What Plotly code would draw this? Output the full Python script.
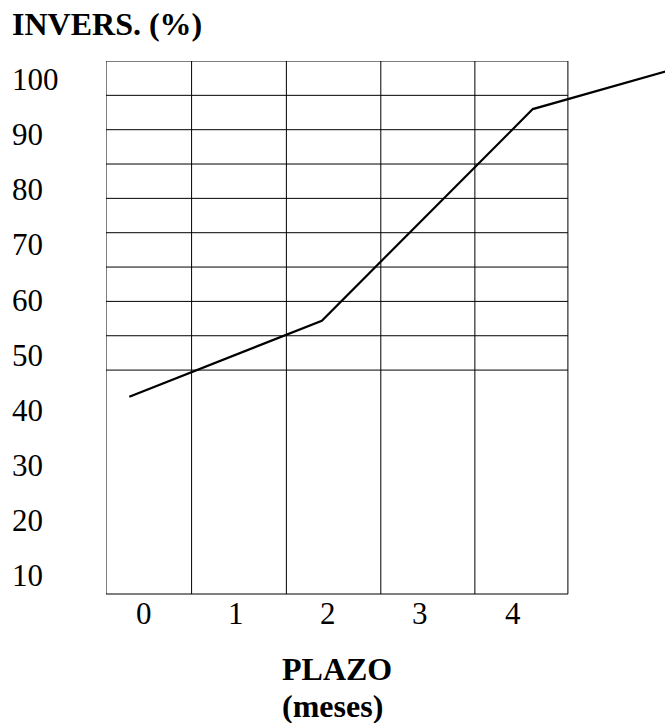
import plotly.graph_objects as go

# ---- data ----
plazo = [-0.16, 1.93, 4.22, 5.66]          # months
inversion = [42.8, 56.6, 95.0, 101.8]       # %
x_ticks = [0, 1, 2, 3, 4]
x_tick_text = ["0", "1", "2", "3", "4"]
y_ticks = [100, 90, 80, 70, 60, 50, 40, 30, 20, 10]
y_tick_text = ["100", "90", "80", "70", "60", "50", "40", "30", "20", "10"]

# ---- layout constants ----
W, H = 665, 723
ML, MR, MT, MB = 106, 0, 61, 129
X_RANGE = [-0.413, 5.655]
Y_RANGE = [7.03, 103.72]
grid_x = [-0.413, 0.516, 1.545, 2.570, 3.591, 4.601]
grid_y_top = 103.72
grid_y_step = 6.23
n_hlines = 10
FONT = "Liberation Serif, Times New Roman, serif"
FS = 31
FS_B = 32

pw = W - ML - MR
ph = H - MT - MB

def px_to_paper_x(p):
    return (p - ML) / pw

def px_to_paper_y(p):
    return (H - MB - p) / ph

fig = go.Figure()
fig.add_trace(go.Scatter(x=plazo, y=inversion, mode="lines",
                         line=dict(color="black", width=2.2),
                         hoverinfo="skip", showlegend=False))

shapes = []
x_left, x_right = grid_x[0], grid_x[-1]
for gx in grid_x:
    shapes.append(dict(type="line", xref="x", yref="paper", x0=gx, x1=gx, y0=0, y1=1,
                       line=dict(color="black", width=1)))
for k in range(n_hlines):
    gy = grid_y_top - k * grid_y_step
    shapes.append(dict(type="line", xref="x", yref="y", x0=x_left, x1=x_right, y0=gy, y1=gy,
                       line=dict(color="black", width=1)))
shapes.append(dict(type="line", xref="x", yref="paper", x0=x_left, x1=x_right, y0=0, y1=0,
                   line=dict(color="black", width=1.2)))

annotations = []
for v, t in zip(y_ticks, y_tick_text):
    annotations.append(dict(text=t, xref="paper", yref="y", x=px_to_paper_x(10), y=v,
                            xanchor="left", yanchor="middle", yshift=2, showarrow=False,
                            font=dict(family=FONT, size=FS, color="black")))
for v, t in zip(x_ticks, x_tick_text):
    annotations.append(dict(text=t, xref="x", yref="paper", x=v, y=px_to_paper_y(613),
                            xanchor="center", yanchor="middle", showarrow=False,
                            font=dict(family=FONT, size=FS, color="black")))
annotations.append(dict(text="<b>INVERS. (%)</b>", xref="paper", yref="paper",
                        x=px_to_paper_x(10), y=px_to_paper_y(24), xanchor="left", yanchor="middle",
                        showarrow=False, font=dict(family=FONT, size=FS_B, color="black")))
annotations.append(dict(text="<b>PLAZO</b>", xref="paper", yref="paper",
                        x=px_to_paper_x(337), y=px_to_paper_y(669), xanchor="center", yanchor="middle",
                        showarrow=False, font=dict(family=FONT, size=FS_B, color="black")))
annotations.append(dict(text="<b>(meses)</b>", xref="paper", yref="paper",
                        x=px_to_paper_x(332), y=px_to_paper_y(706), xanchor="center", yanchor="middle",
                        showarrow=False, font=dict(family=FONT, size=FS_B, color="black")))

fig.update_layout(
    width=W, height=H,
    margin=dict(l=ML, r=MR, t=MT, b=MB, pad=0),
    paper_bgcolor="white", plot_bgcolor="white",
    xaxis=dict(range=X_RANGE, visible=False, fixedrange=True),
    yaxis=dict(range=Y_RANGE, visible=False, fixedrange=True),
    shapes=shapes, annotations=annotations,
    showlegend=False,
)

fig.write_html("out.html", config={"displayModeBar": False},
               post_script="document.body.style.margin='0';document.body.style.overflow='hidden';")
